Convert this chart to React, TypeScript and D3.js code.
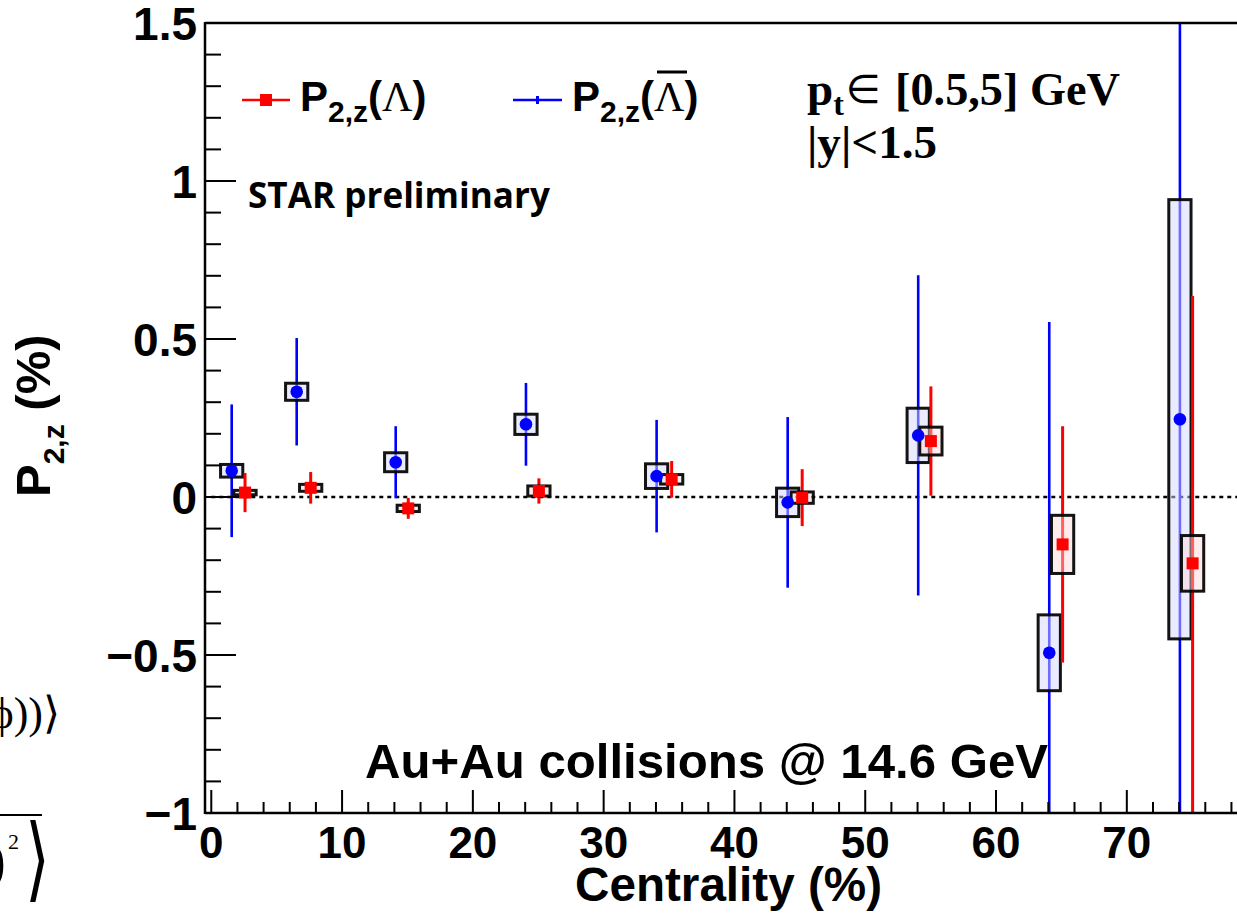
import React from "react";
import * as d3 from "d3";

// ---- Data ----
const lambdaCent = [2.58, 7.6, 15.06, 25.05, 35.2, 45.18, 55.02, 65.09, 75.03];
const lambdaVal = [0.014, 0.029, -0.036, 0.019, 0.056, -0.002, 0.177, -0.15, -0.21];
const lambdaStat = [0.062, 0.05, 0.033, 0.04, 0.058, 0.09, 0.173, 0.374, 0.846];
const lambdaSys = [0.007, 0.011, 0.01, 0.016, 0.015, 0.018, 0.044, 0.092, 0.088];

const antiCent = [1.56, 6.53, 14.1, 24.06, 34.05, 44.07, 54.05, 64.07, 74.06];
const antiVal = [0.083, 0.333, 0.11, 0.23, 0.066, -0.017, 0.195, -0.493, 0.246];
const antiStat = [0.21, 0.17, 0.114, 0.131, 0.178, 0.27, 0.507, 1.047, 1.35];
const antiSys = [0.02, 0.027, 0.03, 0.032, 0.039, 0.045, 0.086, 0.12, 0.695];

const xTickValues = [0, 10, 20, 30, 40, 50, 60, 70, 80];
const xTickLabels = ["0", "10", "20", "30", "40", "50", "60", "70"];
const yTickValues = [-1, -0.5, 0, 0.5, 1, 1.5];
const yTickLabels = ["\u22121", "\u22120.5", "0", "0.5", "1", "1.5"];

const BOX_HALF = 0.85;

const W = 1237;
const H = 923;
const L = 205;
const R = 1258;
const T = 23;
const B = 813;

const SANS = "'Liberation Sans', Arial, sans-serif";
const SERIF = "'Liberation Serif', 'Times New Roman', serif";

export default function App() {
  const x = d3.scaleLinear().domain([-0.48, 80.03]).range([L, R]);
  const y = d3.scaleLinear().domain([-1, 1.5]).range([B, T]);

  const xMinor = d3.range(0, 81, 2).filter((v) => v % 10 !== 0);
  const yMinor = d3.range(-10, 16, 1).map((v) => v / 10).filter((v) => Math.abs(v * 2 - Math.round(v * 2)) > 1e-6);

  const anti = antiCent.map((c, i) => ({ c, v: antiVal[i], s: antiStat[i], sys: antiSys[i] }));
  const lam = lambdaCent.map((c, i) => ({ c, v: lambdaVal[i], s: lambdaStat[i], sys: lambdaSys[i] }));

  const box = (d: any, fill: string, key: string) => (
    <rect
      key={key}
      x={x(d.c - BOX_HALF)}
      y={y(d.v + d.sys)}
      width={x(d.c + BOX_HALF) - x(d.c - BOX_HALF)}
      height={Math.max(0.1, y(d.v - d.sys) - y(d.v + d.sys))}
      fill={fill}
      stroke="#000"
      strokeOpacity={0.92}
      strokeWidth={3}
    />
  );

  return (
    <svg width={W} height={H} style={{ position: "absolute", left: 0, top: 0, background: "#fff" }}>
      <defs>
        <clipPath id="frame">
          <rect x={L} y={T} width={R - L} height={B - T} />
        </clipPath>
      </defs>
      <rect x={0} y={0} width={W} height={H} fill="#fff" />

      {/* cut-off slide fragments at the left edge */}
      <text x={60} y={728} textAnchor="end" fontFamily={SERIF} fontSize={44}>
        {"\u0394\u03d5))\u27e9"}
      </text>
      <line x1={0} x2={42} y1={815} y2={815} stroke="#000" strokeWidth={2} />
      <text x={-14} y={880} fontFamily={SERIF} fontSize={60}>)</text>
      <text x={8} y={849} fontFamily={SERIF} fontSize={22}>2</text>
      <text x={25} y={890} fontFamily="'DejaVu Sans', sans-serif" fontSize={80} transform="translate(25 890) scale(0.8 1.15) translate(-25 -890)">
        {"\u27e9"}
      </text>

      {/* zero line */}
      <line x1={x(0)} x2={W} y1={y(0)} y2={y(0)} stroke="#000" strokeWidth={2.5} strokeDasharray="4 4" />

      <g clipPath="url(#frame)">
        {anti.map((d, i) => (
          <line key={"ae" + i} x1={x(d.c)} x2={x(d.c)} y1={y(d.v + d.s)} y2={y(d.v - d.s)} stroke="#0000ff" strokeWidth={2.6} />
        ))}
        {anti.map((d, i) => box(d, "rgba(215,215,255,0.5)", "ab" + i))}
        {lam.map((d, i) => (
          <line key={"le" + i} x1={x(d.c)} x2={x(d.c)} y1={y(d.v + d.s)} y2={y(d.v - d.s)} stroke="#ff0000" strokeWidth={3} />
        ))}
        {lam.map((d, i) => box(d, "rgba(255,215,215,0.45)", "lb" + i))}
        {anti.map((d, i) => (
          <circle key={"am" + i} cx={x(d.c)} cy={y(d.v)} r={6.3} fill="#0000ff" />
        ))}
        {lam.map((d, i) => (
          <rect key={"lm" + i} x={x(d.c) - 6} y={y(d.v) - 6} width={12} height={12} fill="#ff0000" />
        ))}
      </g>

      {/* frame */}
      <line x1={L} x2={R} y1={T} y2={T} stroke="#000" strokeWidth={2.5} />
      <line x1={L} x2={L} y1={T - 1} y2={B + 1} stroke="#000" strokeWidth={2.5} />
      <line x1={L} x2={R} y1={B} y2={B} stroke="#000" strokeWidth={2.5} />

      {/* y ticks */}
      {yTickValues.map((v) => (
        <line key={"yt" + v} x1={L} x2={L + 31} y1={y(v)} y2={y(v)} stroke="#000" strokeWidth={2} />
      ))}
      {yMinor.map((v) => (
        <line key={"ym" + v} x1={L} x2={L + 16} y1={y(v)} y2={y(v)} stroke="#000" strokeWidth={2} />
      ))}
      {yTickValues.map((v, i) => (
        <text key={"yl" + v} x={197} y={y(v) + 17} textAnchor="end" fontFamily={SANS} fontWeight="bold" fontSize={46}>
          {yTickLabels[i]}
        </text>
      ))}

      {/* x ticks */}
      {xTickValues.map((v) => (
        <line key={"xt" + v} x1={x(v)} x2={x(v)} y1={B} y2={B - 23} stroke="#000" strokeWidth={2} />
      ))}
      {xMinor.map((v) => (
        <line key={"xm" + v} x1={x(v)} x2={x(v)} y1={B} y2={B - 11} stroke="#000" strokeWidth={2} />
      ))}
      {xTickLabels.map((t, i) => (
        <text key={"xl" + t} x={x(xTickValues[i])} y={858} textAnchor="middle" fontFamily={SANS} fontWeight="bold" fontSize={44}>
          {t}
        </text>
      ))}

      {/* axis titles */}
      <text x={575} y={901} fontFamily={SANS} fontWeight="bold" fontSize={48} textLength={307} lengthAdjust="spacingAndGlyphs">
        Centrality (%)
      </text>
      <text transform="translate(50 497) rotate(-90)" fontFamily={SANS} fontWeight="bold" fontSize={49}>
        P<tspan fontSize={30} dy={14}>2,z</tspan>
        <tspan dy={-14}>{"\u00a0(%)"}</tspan>
      </text>

      {/* legend */}
      <line x1={242} x2={290} y1={100} y2={100} stroke="#ff0000" strokeWidth={2.5} />
      <rect x={260} y={94} width={12} height={12} fill="#ff0000" />
      <text x={300} y={111} fontFamily={SANS} fontWeight="bold" fontSize={42}>
        P<tspan fontSize={30} dy={11}>2,z</tspan>
        <tspan dy={-11}>(</tspan>
        <tspan fontFamily={SERIF} fontWeight="normal">{"\u039b"}</tspan>
        <tspan>)</tspan>
      </text>
      <line x1={513} x2={562} y1={100} y2={100} stroke="#0000ff" strokeWidth={2.5} />
      <line x1={537.5} x2={537.5} y1={96} y2={104} stroke="#0000ff" strokeWidth={3} />
      <text x={572} y={111} fontFamily={SANS} fontWeight="bold" fontSize={42}>
        P<tspan fontSize={30} dy={11}>2,z</tspan>
        <tspan dy={-11}>(</tspan>
        <tspan fontFamily={SERIF} fontWeight="normal">{"\u039b"}</tspan>
        <tspan>)</tspan>
      </text>
      <line x1={657} x2={687} y1={72} y2={72} stroke="#000" strokeWidth={3} />

      {/* kinematic cuts */}
      <text x={807} y={105} fontFamily={SERIF} fontWeight="bold" fontSize={47}>
        p<tspan fontSize={32} dy={10}>t</tspan>
      </text>
      <text x={846} y={103} fontFamily="'DejaVu Sans', sans-serif" fontSize={40}>{"\u2208"}</text>
      <text x={895} y={105} fontFamily={SERIF} fontWeight="bold" fontSize={47} textLength={225} lengthAdjust="spacingAndGlyphs">
        [0.5,5] GeV
      </text>
      <text x={807} y={158} fontFamily={SERIF} fontWeight="bold" fontSize={47} textLength={130} lengthAdjust="spacingAndGlyphs">
        |y|&lt;1.5
      </text>

      <text x={248} y={208} fontFamily="'Open Sans', sans-serif" fontWeight="bold" fontSize={35} textLength={302} lengthAdjust="spacingAndGlyphs">
        STAR preliminary
      </text>

      <text x={365} y={778} fontFamily={SANS} fontWeight="bold" fontSize={49} textLength={683} lengthAdjust="spacingAndGlyphs">
        Au+Au collisions @ 14.6 GeV
      </text>
    </svg>
  );
}
